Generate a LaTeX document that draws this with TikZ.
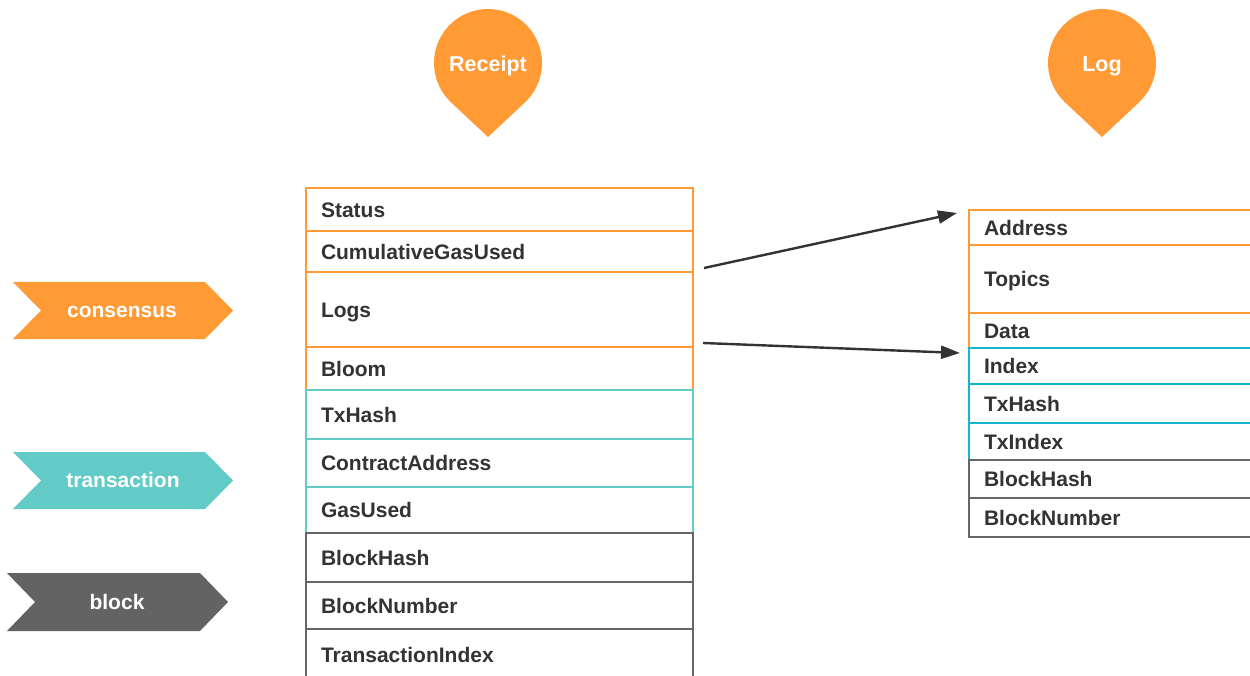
\documentclass[tikz,border=0pt]{standalone}
\usepackage{fontspec}
\setmainfont{Liberation Sans}
\usetikzlibrary{arrows.meta}

\definecolor{orng}{HTML}{FF9A35}
\definecolor{txteal}{HTML}{62CBC8}
\definecolor{logcyan}{HTML}{13B5D1}
\definecolor{blkgray}{HTML}{666666}
\definecolor{chevgray}{HTML}{636363}
\definecolor{ink}{HTML}{333333}

\tikzset{
  labelfont/.style={font=\bfseries\fontsize{21}{25}\selectfont},
  field/.style={draw, line width=2.4pt, rectangle, anchor=north west,
    text width=357pt, inner xsep=15pt, inner ysep=0pt, outer sep=0pt,
    align=left, text height=15.6pt, text depth=0pt, labelfont, text=ink},
  consfield/.style={field, draw=orng},
  txfield/.style={field, draw=txteal},
  logtxfield/.style={field, draw=logcyan},
  blkfield/.style={field, draw=blkgray},
  chevtext/.style={labelfont, text=white, anchor=base, inner sep=0pt},
  pintext/.style={font=\bfseries\fontsize{21.5}{25}\selectfont, text=white, anchor=base, inner sep=0pt},
  link/.style={draw=ink, line width=2.4pt, -{Triangle[length=19pt,width=13pt]}},
  droppin/.pic={
    \fill[orng] (0,74) -- (133.1:54) arc[start angle=133.1, end angle=406.9, radius=54] -- cycle;
  },
}

\begin{document}
\begin{tikzpicture}[x=1pt, y=-1pt]
  \useasboundingbox (0,0) rectangle (1250,676);
  \clip (0,0) rectangle (1250,676);

  % headers
  \pic at (488,63) {droppin};
  \node[pintext] (receipt) at (488,71.5) {Receipt};
  \pic at (1102,63) {droppin};
  \node[pintext] (log) at (1102,71.5) {Log};

  % category chevrons
  \fill[orng] (13,282) -- (205,282) -- (233,310.5) -- (205,339) -- (13,339) -- (41,310.5) -- cycle;
  \node[chevtext] (consensus) at (122,317.5) {consensus};
  \fill[txteal] (13,452) -- (205,452) -- (233,480.5) -- (205,509) -- (13,509) -- (41,480.5) -- cycle;
  \node[chevtext] (transaction) at (123,487.5) {transaction};
  \fill[chevgray] (7,573) -- (200,573) -- (228,602) -- (200,631) -- (7,631) -- (35,602) -- cycle;
  \node[chevtext] (block) at (117,609) {block};

  % Receipt fields
  \node[consfield, minimum height=43pt] (status)   at (306,188) {Status};
  \node[consfield, minimum height=41pt] (cumgas)   at (306,231) {CumulativeGasUsed};
  \node[consfield, minimum height=75pt] (logs)     at (306,272) {Logs};
  \node[consfield, minimum height=43pt] (bloom)    at (306,347) {Bloom};
  \node[txfield,   minimum height=49pt] (txhash)   at (306,390) {TxHash};
  \node[txfield,   minimum height=48pt] (contract) at (306,439) {ContractAddress};
  \node[txfield,   minimum height=46pt] (gasused)  at (306,487) {GasUsed};
  \node[blkfield,  minimum height=49pt] (rblockhash) at (306,533) {BlockHash};
  \node[blkfield,  minimum height=47pt] (rblocknum)  at (306,582) {BlockNumber};
  \node[blkfield,  minimum height=52pt] (txindex)    at (306,629) {TransactionIndex};

  % Log fields
  \node[consfield,  minimum height=35pt] (address)  at (969,210) {Address};
  \node[consfield,  minimum height=68pt] (topics)   at (969,245) {Topics};
  \node[consfield,  minimum height=35pt] (data)     at (969,313) {Data};
  \node[logtxfield, minimum height=36pt] (index)    at (969,348) {Index};
  \node[logtxfield, minimum height=39pt] (ltxhash)  at (969,384) {TxHash};
  \node[logtxfield, minimum height=37pt] (ltxindex) at (969,423) {TxIndex};
  \node[blkfield,   minimum height=38pt] (lblockhash) at (969,460) {BlockHash};
  \node[blkfield,   minimum height=39pt] (lblocknum)  at (969,498) {BlockNumber};

  % Logs expand into Log entries
  \draw[link] ([shift={(11,-4)}]logs.north east) -- ([shift={(-12,3)}]address.north west);
  \draw[link] ([shift={(10,-4)}]logs.south east) -- ([shift={(-9,5)}]index.north west);
\end{tikzpicture}
\end{document}
